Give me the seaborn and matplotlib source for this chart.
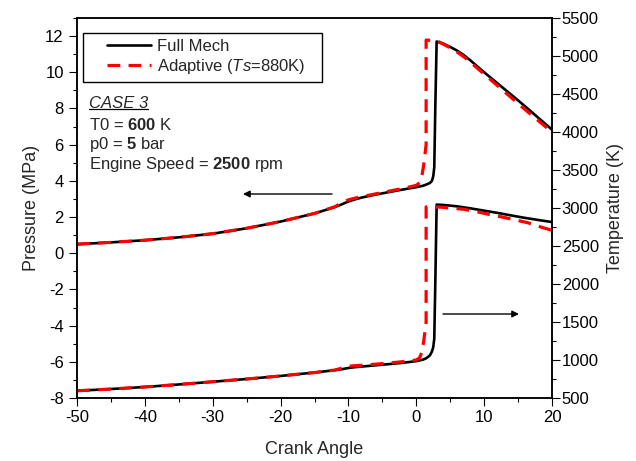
import numpy as np
import pandas as pd
import matplotlib
matplotlib.use("Agg")
import matplotlib.pyplot as plt
import seaborn as sns
from matplotlib.legend_handler import HandlerLine2D
from matplotlib.lines import Line2D
from matplotlib.ticker import MultipleLocator

# ---------------- data ----------------
full_p_ca = [-50, -45, -40, -35, -30, -25, -20, -15, -12, -11, -10, -9, -8, -6, -4, -2, 0, 1, 1.5, 2.0, 2.3, 2.5, 2.65, 2.8, 3.0,
             4, 5, 6, 7, 8, 10, 12, 14, 16, 18, 20]
full_p = [0.50, 0.60, 0.72, 0.88, 1.08, 1.38, 1.75, 2.20, 2.55, 2.70, 2.86, 2.98, 3.08, 3.24, 3.38, 3.52, 3.65, 3.73, 3.80, 3.88, 4.00, 4.25, 4.75, 8.0, 11.70,
          11.58, 11.40, 11.20, 10.95, 10.65, 10.00, 9.38, 8.76, 8.13, 7.48, 6.83]

adapt_p_ca = [-50, -45, -40, -35, -30, -25, -20, -15, -12, -11, -10, -9, -8, -6, -4, -2, 0, 0.5, 0.8, 1.1, 1.45, 1.45, 3.0,
              4, 5, 6, 7, 8, 10, 12, 14, 16, 18, 20]
adapt_p = [0.50, 0.60, 0.72, 0.88, 1.08, 1.38, 1.75, 2.20, 2.57, 2.78, 2.95, 3.05, 3.13, 3.28, 3.43, 3.58, 3.75, 3.90, 4.20, 4.90, 6.0, 11.78, 11.75,
           11.55, 11.35, 11.12, 10.86, 10.55, 9.90, 9.25, 8.60, 7.95, 7.32, 6.70]

full_t_ca = [-50, -45, -40, -35, -30, -25, -20, -15, -12, -11, -10, -9, -8, -6, -4, -2, 0, 1, 1.5, 2.0, 2.3, 2.5, 2.65, 2.8, 3.0,
             4, 6, 8, 10, 12, 14, 16, 18, 20]
full_t = [595, 618, 645, 678, 714, 750, 790, 835, 866, 878, 895, 906, 914, 930, 946, 963, 985, 1005, 1025, 1060, 1110, 1170, 1280, 2000, 3045,
          3040, 3022, 2995, 2965, 2935, 2902, 2870, 2842, 2815]

adapt_t_ca = [-50, -45, -40, -35, -30, -25, -20, -15, -12, -11, -10, -9, -8, -6, -4, -2, 0, 0.5, 0.8, 1.1, 1.45, 1.45, 3.5,
              5, 7, 9, 11, 12.6, 14, 16.4, 18, 20]
adapt_t = [595, 618, 645, 678, 714, 750, 790, 835, 868, 892, 918, 925, 931, 945, 960, 978, 1000, 1030, 1100, 1250, 1500, 3015, 3012,
           3000, 2983, 2950, 2910, 2882, 2855, 2807, 2760, 2706]

series_labels = ["Full Mech", r"Adaptive ($\mathit{Ts}$=880K)"]
xticks = [-50, -40, -30, -20, -10, 0, 10, 20]
p_ticks = [-8, -6, -4, -2, 0, 2, 4, 6, 8, 10, 12]
t_ticks = [500, 1000, 1500, 2000, 2500, 3000, 3500, 4000, 4500, 5000, 5500]

# ---------------- style ----------------
sns.set_style("ticks")
plt.rcParams["font.family"] = ["Liberation Sans", "DejaVu Sans"]
plt.rcParams["mathtext.fontset"] = "custom"
plt.rcParams["mathtext.rm"] = "Liberation Sans"
plt.rcParams["mathtext.it"] = "Liberation Sans:italic"
plt.rcParams["mathtext.bf"] = "Liberation Sans:bold"
plt.rcParams["axes.linewidth"] = 1.1
plt.rcParams["axes.unicode_minus"] = False

W, H = 636, 461
fig = plt.figure(figsize=(W / 100, H / 100), dpi=100)
L, R, T, B = 77, 552, 18, 398
ax = fig.add_axes([L / W, 1 - B / H, (R - L) / W, (B - T) / H])
ax2 = ax.twinx()

black_kw = dict(color="black", lw=1.9, estimator=None, sort=False)
red_kw = dict(color="#ff0000", lw=2.3, estimator=None, sort=False, linestyle=(0, (4, 2.6)))

df_fp = pd.DataFrame({"ca": full_p_ca, "v": full_p})
df_ap = pd.DataFrame({"ca": adapt_p_ca, "v": adapt_p})
df_ft = pd.DataFrame({"ca": full_t_ca, "v": full_t})
df_at = pd.DataFrame({"ca": adapt_t_ca, "v": adapt_t})

sns.lineplot(data=df_fp, x="ca", y="v", ax=ax, **black_kw)
sns.lineplot(data=df_ap, x="ca", y="v", ax=ax, **red_kw)
sns.lineplot(data=df_ft, x="ca", y="v", ax=ax2, **black_kw)
sns.lineplot(data=df_at, x="ca", y="v", ax=ax2, **red_kw)

ax.set_xlim(-50, 20)
ax.set_ylim(-8, 13)
ax2.set_ylim(500, 5500)
ax.set_xticks(xticks)
ax.set_yticks(p_ticks)
ax2.set_yticks(t_ticks)
ax.xaxis.set_minor_locator(MultipleLocator(5))
ax.yaxis.set_minor_locator(MultipleLocator(1))
ax2.yaxis.set_minor_locator(MultipleLocator(250))

for a in (ax, ax2):
    for s in a.spines.values():
        s.set_visible(True)
        s.set_linewidth(1.1)
        s.set_color("black")
    a.tick_params(which="major", length=5.5, width=0.8, color="black", labelsize=12, labelcolor="black")
    a.tick_params(which="minor", length=3.0, width=0.8, color="black")
ax.tick_params(axis="y", pad=4)
ax.tick_params(axis="x", pad=3)
ax2.tick_params(axis="y", pad=1.5)

ax.set_xlabel("Crank Angle", fontsize=13, labelpad=12)
ax.set_ylabel("Pressure (MPa)", fontsize=13, labelpad=4)
ax2.set_ylabel("Temperature (K)", fontsize=13, labelpad=6)


# ---------------- legend ----------------
class OffsetHandler(HandlerLine2D):
    def create_artists(self, legend, orig_handle, xdescent, ydescent, width, height, fontsize, trans):
        frac = 0.3
        return super().create_artists(legend, orig_handle, xdescent - width * frac, ydescent,
                                      width * (1 - frac), height, fontsize, trans)


h1 = Line2D([], [], color="black", lw=1.9)
h2 = Line2D([], [], color="#ff0000", lw=2.3, linestyle=(0, (4, 2.6)))
leg = ax2.legend([h1, h2], [series_labels[0], series_labels[1] + "   "],
                 loc="upper left", bbox_to_anchor=((83 - L) / (R - L), (B - 33) / (B - T)),
                 borderaxespad=0, fontsize=12, frameon=True, fancybox=False,
                 handlelength=3.7, handletextpad=0.4, borderpad=0.35, labelspacing=0.2,
                 handler_map={Line2D: OffsetHandler()})
leg.get_frame().set_edgecolor("black")
leg.get_frame().set_linewidth(1.0)
leg.get_frame().set_facecolor("white")
leg.get_frame().set_alpha(1)

# ---------------- annotations ----------------
def fy(ypix):
    return (B - ypix) / (B - T)


tx = (89 - L) / (R - L)
case_t = ax.text(tx, fy(104), "CASE 3", transform=ax.transAxes, fontsize=12, style="italic", va="center", ha="left")
ax.text(tx, fy(124.5), r"T0 = $\mathbf{600}$ K", transform=ax.transAxes, fontsize=12, va="center", ha="left")
ax.text(tx, fy(144.5), r"p0 = $\mathbf{5}$ bar", transform=ax.transAxes, fontsize=12, va="center", ha="left")
ax.text(tx, fy(164.5), r"Engine Speed = $\mathbf{2500}$ rpm", transform=ax.transAxes, fontsize=12, va="center", ha="left")

arrow_kw = dict(arrowstyle="-|>", color="black", lw=1.0, mutation_scale=10, shrinkA=0, shrinkB=0)
ax.annotate("", xy=((243 - L) / (R - L), fy(194)), xytext=((332 - L) / (R - L), fy(194)),
            xycoords="axes fraction", textcoords="axes fraction", arrowprops=arrow_kw)
ax.annotate("", xy=((519 - L) / (R - L), fy(314)), xytext=((443 - L) / (R - L), fy(314)),
            xycoords="axes fraction", textcoords="axes fraction", arrowprops=arrow_kw)

# underline for CASE 3
fig.canvas.draw()
bb = case_t.get_window_extent()
uy = 1 - 108.5 / H
fig.add_artist(Line2D([bb.x0 / W, bb.x1 / W], [uy, uy], transform=fig.transFigure, color="black", lw=0.9))

fig.savefig("out.png", dpi=100)
